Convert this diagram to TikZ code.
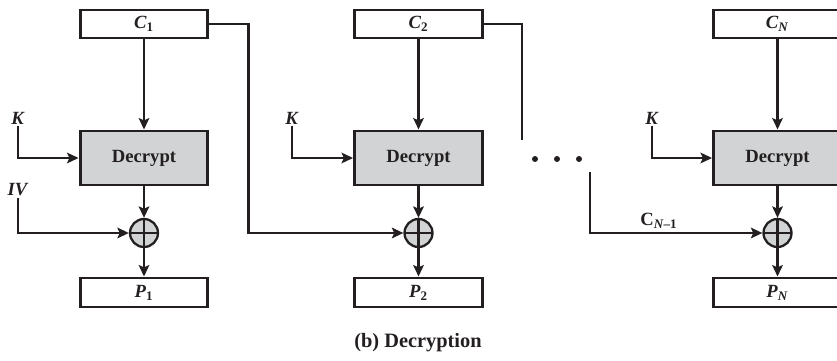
\documentclass[tikz,border=0pt]{standalone}
\usepackage{fontspec}
\setmainfont{Liberation Serif}
\usetikzlibrary{arrows.meta, positioning, calc}
\definecolor{decgray}{RGB}{209,211,212}
\definecolor{inkblack}{RGB}{35,31,32}
\newcommand{\blk}[2]{\textbf{\textit{#1}}\textsubscript{\textbf{#2}}}

\begin{document}
\begin{tikzpicture}[
    x=0.02cm, y=-0.02cm,
    %% Styles  (coordinates are given in pixels of the original figure)
    blockbox/.style={
      rectangle, draw=inkblack, line width=1.7pt,
      minimum width=2.56cm, minimum height=0.56cm,
      inner sep=0pt, text centered, text=inkblack,
      font=\fontsize{10.6}{12}\selectfont\bfseries
    },
    decbox/.style={
      blockbox, fill=decgray, minimum height=1.08cm
    },
    xorop/.style={
      circle, draw=inkblack, line width=1.3pt, fill=decgray,
      minimum size=0.56cm, inner sep=0pt,
      path picture={
        \draw[line width=1.3pt, inkblack]
          (path picture bounding box.north) -- (path picture bounding box.south)
          (path picture bounding box.west) -- (path picture bounding box.east);
      }
    },
    dotmark/.style={circle, fill=inkblack, minimum size=0.12cm, inner sep=0pt},
    arrow/.style={-{Stealth[length=6.5pt, width=6pt, inset=1.3pt]}, line width=1.3pt, draw=inkblack},
    wire/.style={line width=1.3pt, draw=inkblack},
    lbl/.style={font=\fontsize{10.6}{12}\selectfont, text=inkblack, inner sep=1pt}
  ]

  \useasboundingbox (0,0) rectangle (837,361);
  \clip (0,0) rectangle (837,361);

  %% ── Row 0: Ciphertext blocks  (y = 24) ───────────────────
  \node[blockbox] (c1) at (144,24)   {\blk{C}{1}};
  \node[blockbox] (c2) at (418.5,24) {\blk{C}{2}};
  \node[blockbox] (cN) at (777.5,24) {\blk{C}{\textit{N}}};

  %% ── Row 1: Decrypt  (y = 158) ────────────────────────────
  \node[decbox] (dec1) at (144,158)   {Decrypt};
  \node[decbox] (dec2) at (418.5,158) {Decrypt};
  \node[decbox] (decN) at (777.5,158) {Decrypt};

  % keys
  \node[lbl] (k1) at (18,118)  {\textbf{\textit{K}}};
  \node[lbl] (k2) at (292,118) {\textbf{\textit{K}}};
  \node[lbl] (kN) at (652,118) {\textbf{\textit{K}}};
  \node[lbl] (iv) at (18,190)  {\textbf{\textit{IV}}};

  %% ── Row 2: XOR  (y = 233) ────────────────────────────────
  \node[xorop] (xor1) at (144,233)   {};
  \node[xorop] (xor2) at (418.5,233) {};
  \node[xorop] (xorN) at (777.5,233) {};

  %% ── Row 3: Plaintext blocks  (y = 292.5) ─────────────────
  \node[blockbox, minimum height=0.58cm] (p1) at (144,292.5)   {\blk{P}{1}};
  \node[blockbox, minimum height=0.58cm] (p2) at (418.5,292.5) {\blk{P}{2}};
  \node[blockbox, minimum height=0.58cm] (pN) at (777.5,292.5) {\blk{P}{\textit{N}}};

  %% ── Gap between stage 2 and stage N ──────────────────────
  \foreach \x [count=\i] in {535,557,579}
    \node[dotmark] (dot\i) at (\x,159) {};
  \coordinate (gapin)  at (522,140);
  \coordinate (gapout) at (590,172);

  %% ── Caption ──────────────────────────────────────────────
  \node[font=\fontsize{11.6}{14}\selectfont\bfseries, text=inkblack] (caption) at (418,343)
    {(b) Decryption};

  %% ════════════════════════════════════════════════════════
  %% ── Arrows ──────────────────────────────────────────────
  %% ════════════════════════════════════════════════════════

  % C -> Decrypt -> XOR -> P
  \foreach \s in {1,2,N} {
    \draw[arrow] (c\s.south) -- (dec\s.north);
    \draw[arrow] (dec\s.south) -- (xor\s.north);
    \draw[arrow] (xor\s.south) -- (p\s.north);
  }

  % K -> Decrypt
  \draw[arrow] (k1.south) |- (dec1.west);
  \draw[arrow] (k2.south) |- (dec2.west);
  \draw[arrow] (kN.south) |- (decN.west);

  % IV -> first XOR
  \draw[arrow] (iv.south) |- (xor1.west);

  % chaining
  \draw[arrow] (c1.east) -- ++(39,0) |- (xor2.west);
  \draw[wire]  (c2.east) -| (gapin);
  \draw[arrow] (gapout) |- (xorN.west)
    node[lbl, pos=0.7, above=1pt] {\textbf{C}\textsubscript{\textbf{\textit{N}–1}}};

\end{tikzpicture}
\end{document}
